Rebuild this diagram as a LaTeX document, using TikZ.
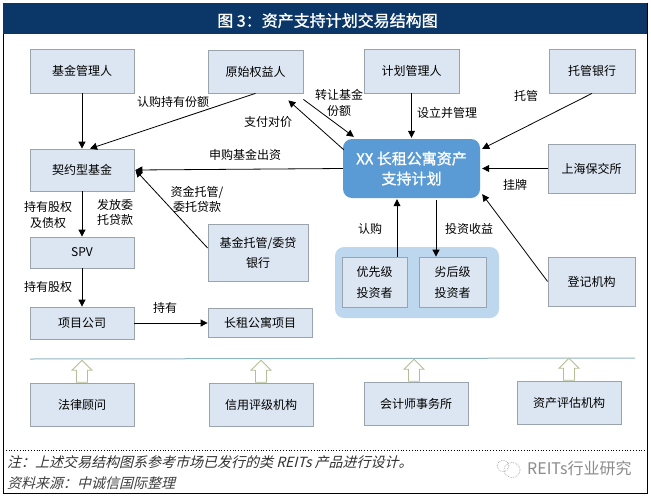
\documentclass[tikz,border=0pt]{standalone}
\usepackage{fontspec}
\setmainfont{Noto Sans CJK SC}
\newfontfamily\cjkb[FakeBold=1.2]{Noto Sans CJK SC}
\newfontfamily\cjkit[FakeSlant=0.25]{Noto Sans CJK SC}
\usetikzlibrary{arrows.meta,calc,shapes.arrows}
\definecolor{boxfill}{HTML}{DCE6F2}
\definecolor{boxline}{HTML}{9BA3AD}
\definecolor{navy}{HTML}{0A3668}
\definecolor{midblue}{HTML}{5B9BD5}
\definecolor{groupblue}{HTML}{BDD7EE}
\definecolor{rulec}{HTML}{8FB4C0}
\definecolor{hollow}{HTML}{B4BE96}
\tikzset{
  x=1pt,y=-1pt,
  pbox/.style={draw=boxline,line width=0.8pt,fill=boxfill,inner sep=0pt,align=center,font=\fontsize{12}{16}\selectfont},
  arr/.style={draw=black,line width=0.8pt,-{Triangle[length=7pt,width=7pt]}},
  lab/.style={inner sep=0pt,align=center,font=\fontsize{12}{15.5}\selectfont},
  uparr/.style={single arrow,draw=hollow,fill=white,line width=0.8pt,shape border rotate=90,minimum height=22pt,minimum width=20pt,single arrow head extend=3.5pt,single arrow tip angle=90,inner sep=0pt,text width=8pt},
}
\newcommand{\pb}[6]{\node[pbox,minimum width=#4pt-#2pt,minimum height=#5pt-#3pt] (#1) at ({(#2+#4)/2},{(#3+#5)/2}) {#6};}
\begin{document}
\begin{tikzpicture}
\useasboundingbox (0,0) rectangle (651,496);
\fill[white] (0,0) rectangle (651,496);
\draw[black,line width=0.9pt] (3,3) rectangle (647,493);
\node[fill=navy,minimum width=644pt,minimum height=31pt,inner sep=0pt] (title) at (325,18.5) {};
\node[inner sep=0pt,text=white,font=\cjkb\fontsize{16}{18}\selectfont] (titletext) at (327.5,20.5) {图 3：资产支持计划交易结构图};
% investor group
\node[fill=groupblue,rounded corners=9pt,minimum width=164pt,minimum height=71pt,inner sep=0pt] (group) at (417,282.5) {};
\pb{fm}{30}{49}{134}{93}{基金管理人}
\pb{orig}{208}{50}{303}{93}{原始权益人}
\pb{pm}{364}{49}{459}{93}{计划管理人}
\pb{cust}{549}{49}{635}{93}{托管银行}
\pb{fund}{30}{149}{134}{191}{契约型基金}
\pb{spv}{30}{237}{134}{268}{SPV}
\pb{bank}{208}{224}{308}{281}{基金托管/委贷\\[4pt]银行}
\pb{co}{30}{307}{134}{339}{项目公司}
\pb{proj}{208}{308}{312}{337}{长租公寓项目}
\pb{sh}{548}{144}{635}{193}{上海保交所}
\pb{reg}{548}{257}{635}{306}{登记机构}
\pb{sen}{342}{257}{407}{307}{优先级\\[5pt]投资者}
\pb{sub}{419}{257}{486}{307}{劣后级\\[5pt]投资者}
\pb{law}{30}{383}{134}{426}{法律顾问}
\pb{rate}{209}{383}{313}{426}{信用评级机构}
\pb{acc}{364}{382}{468}{425}{会计师事务所}
\pb{val}{517}{381}{621}{424}{资产评估机构}
\node[fill=midblue,rounded corners=9pt,minimum width=137pt,minimum height=59pt,inner sep=0pt,text=white,align=center,font=\cjkb\fontsize{15}{20}\selectfont] (plan) at (411.5,168.5) {XX 长租公寓资产\\支持计划};
% arrows
\draw[arr] (fm.south) -- (fund.north);
\draw[arr] (orig.south) -- ([xshift=8pt]fund.north);
\draw[arr] ([xshift=1pt,yshift=-11pt]plan.north west) -- ([xshift=-15pt,yshift=-7pt]orig.south east);
\draw[arr] ([yshift=-6pt]orig.south east) -- ([xshift=11pt,yshift=2pt]plan.north west);
\draw[arr] (plan.west) -- ([xshift=1pt]fund.east);
\draw[arr] ([yshift=4.5pt]bank.west) -- ([xshift=1pt]fund.east);
\draw[arr] (fund.south) -- (spv.north);
\draw[arr] (spv.south) -- (co.north);
\draw[arr] (co.east) -- (co.east -| proj.west);
\draw[arr] (pm.south) -- ([yshift=1pt]plan.north);
\draw[arr] (cust.south) -- ([xshift=2pt,yshift=-10pt]plan.north east);
\draw[arr] (sh.west) -- ([xshift=2pt]plan.east);
\draw[arr] (reg.west) -- ([xshift=2pt,yshift=4pt]plan.south east);
\draw[arr] ([xshift=22.5pt]sen.north) -- ([xshift=-14.5pt,yshift=-1pt]plan.south);
\draw[arr] ([xshift=24.5pt,yshift=-2pt]plan.south) -- ([xshift=-16.5pt]sub.north);
% rule and hollow arrows
\coordinate (ruleL) at (30,359);
\coordinate (ruleR) at (635,358);
\draw[rulec,line width=1pt] (ruleL) -- (ruleR);
\node[uparr,anchor=tail] (u1) at (law.north)  {};
\node[uparr,anchor=tail] (u2) at (rate.north) {};
\node[uparr,anchor=tail] (u3) at ([xshift=-2pt]acc.north) {};
\node[uparr,anchor=tail] (u4) at (val.north) {};
% labels
\node[lab] (l1) at (173,102) {认购持有份额};
\node[lab] (l2) at (268,122) {支付对价};
\node[lab] (l3) at (339,103) {转让基金\\份额};
\node[lab] (l4) at (447,113) {设立并管理};
\node[lab] (l5) at (526,96) {托管};
\node[lab] (l6) at (515,185) {挂牌};
\node[lab] (l7) at (370,229) {认购};
\node[lab] (l8) at (469,229) {投资收益};
\node[lab] (l9) at (245,155) {申购基金出资};
\node[lab] (l10) at (197,199.5) {资金托管/\\委托贷款};
\node[lab] (l11) at (48,215) {持有股权\\及债权};
\node[lab] (l12) at (115,212.5) {发放委\\托贷款};
\node[lab] (l13) at (48,287) {持有股权};
\node[lab] (l14) at (165,308) {持有};
% footer
\draw[black,line width=0.8pt,dotted] (3,450) -- (647,450);
\node[anchor=west,inner sep=0pt,font=\cjkit\fontsize{14}{16}\selectfont,text=black!80] (note) at (7,462) {注：上述交易结构图系参考市场已发行的类 REITs 产品进行设计。};
\node[anchor=west,inner sep=0pt,font=\cjkit\fontsize{14}{16}\selectfont,text=black!75] (src) at (7,483) {资料来源：中诚信国际整理};
\node[anchor=west,inner sep=0pt,font=\fontsize{16}{18}\selectfont,text=black!45] (wm) at (527,468) {REITs行业研究};
\draw[black!35,densely dotted,line width=0.7pt] (503,466) ellipse (6pt and 5.5pt);
\draw[black!35,densely dotted,line width=0.7pt] (512,470) ellipse (8pt and 7.5pt);
\end{tikzpicture}
\end{document}
